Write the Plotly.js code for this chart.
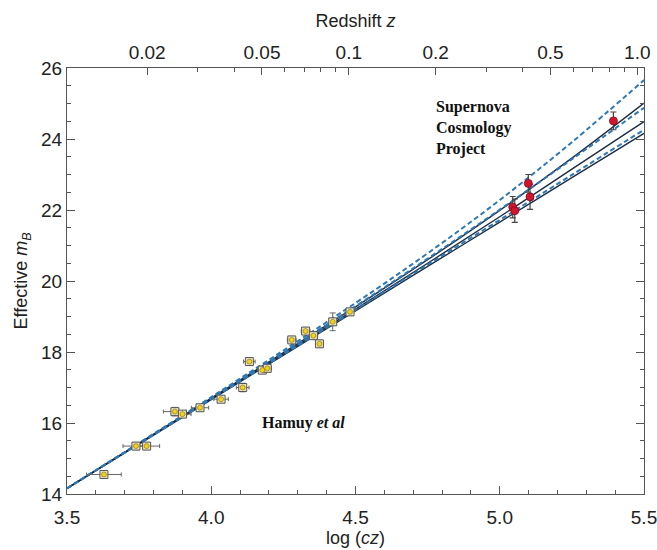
<!DOCTYPE html>
<html>
<head>
<meta charset="utf-8">
<script src="https://cdn.plot.ly/plotly-3.0.1.min.js"></script>
<style>html,body{margin:0;padding:0;background:#fff;}#chart{width:657px;height:550px;}</style>
</head>
<body>
<div id="chart"></div>
<script>
// Hamuy et al. low-redshift supernovae
var hamuyLogCz = [3.628, 3.739, 3.776, 3.874, 3.900, 3.961, 4.034, 4.109, 4.132, 4.177, 4.194, 4.279, 4.327, 4.354, 4.375, 4.421, 4.481];
var hamuyMag   = [14.55, 15.35, 15.35, 16.32, 16.25, 16.43, 16.67, 17.00, 17.73, 17.49, 17.54, 18.34, 18.59, 18.46, 18.23, 18.85, 19.13];
var hamuyXErr  = [0.060, 0.045, 0.045, 0.040, 0.030, 0.030, 0.025, 0.022, 0.020, 0.015, 0.015, 0.015, 0.015, 0.015, 0.012, 0.012, 0.012];
var hamuyYErr  = [0.06, 0.10, 0.08, 0.12, 0.08, 0.08, 0.08, 0.12, 0.10, 0.08, 0.08, 0.10, 0.10, 0.10, 0.10, 0.25, 0.10];

// Supernova Cosmology Project high-redshift supernovae
var scpLogCz = [5.045, 5.052, 5.099, 5.105, 5.394];
var scpMag   = [22.08, 21.98, 22.75, 22.37, 24.51];
var scpYErr  = [0.30, 0.33, 0.25, 0.35, 0.25];

// Model curves
var curveLogCz  = [3.5, 4.0, 4.5, 4.75, 5.0, 5.25, 5.5];
var dashedTop   = [14.16, 16.73, 19.38, 20.78, 22.28, 23.91, 25.66];
var solidTop    = [14.16, 16.70, 19.27, 20.60, 21.99, 23.46, 25.01];
var dashedMid   = [14.16, 16.70, 19.29, 20.63, 22.01, 23.43, 24.88];
var solidMid    = [14.16, 16.68, 19.21, 20.50, 21.81, 23.15, 24.49];
var dashedLow   = [14.16, 16.67, 19.19, 20.46, 21.72, 22.99, 24.26];
var solidLow    = [14.16, 16.66, 19.16, 20.41, 21.66, 22.91, 24.16];

// Redshift axis labels
var zMajor = [0.02, 0.05, 0.1, 0.2, 0.5, 1.0];
var zMajorText = ["0.02", "0.05", "0.1", "0.2", "0.5", "1.0"];
var zMinor = [0.03, 0.04, 0.06, 0.07, 0.08, 0.09, 0.3, 0.4, 0.6, 0.7, 0.8, 0.9];

var C_KMS = 299792.458;
function toLogCz(z) { return Math.log10(C_KMS * z); }

var solidColor = '#1c2c44';
var dashColor = '#2f78b4';

function curve(y, dashed) {
  return {
    x: curveLogCz, y: y, mode: 'lines', type: 'scatter', hoverinfo: 'skip',
    line: dashed ? {color: dashColor, width: 2, dash: '5px,3px', shape: 'spline'}
                 : {color: solidColor, width: 1.4, shape: 'spline'},
    showlegend: false
  };
}

var traces = [
  curve(solidTop, false), curve(solidMid, false), curve(solidLow, false),
  curve(dashedTop, true), curve(dashedMid, true), curve(dashedLow, true),
  {
    x: hamuyLogCz, y: hamuyMag, mode: 'markers', type: 'scatter', showlegend: false,
    error_x: {type: 'data', array: hamuyXErr, color: '#666', thickness: 1, width: 2},
    error_y: {type: 'data', array: hamuyYErr, color: '#666', thickness: 1, width: 3},
    marker: {symbol: 'square', size: 8, color: '#ece4c0', line: {color: '#555', width: 1}}
  },
  {
    x: hamuyLogCz, y: hamuyMag, mode: 'markers', type: 'scatter', showlegend: false,
    marker: {symbol: 'circle', size: 5, color: '#f2d21a', line: {color: '#6a5a10', width: 0.5}}
  },
  {
    x: scpLogCz, y: scpMag, mode: 'markers', type: 'scatter', showlegend: false,
    error_y: {type: 'data', array: scpYErr, color: '#444', thickness: 1.2, width: 3},
    marker: {symbol: 'circle', size: 8, color: '#d0152e', line: {color: '#8a0a1a', width: 0.8}}
  },
  {x: [3.5, 5.5], y: [14, 14], xaxis: 'x2', mode: 'markers', marker: {opacity: 0}, showlegend: false, hoverinfo: 'skip'}
];

var tickFont = {family: 'Liberation Sans, Arial, sans-serif', size: 19, color: '#222'};
var titleFont = {family: 'Liberation Sans, Arial, sans-serif', size: 18, color: '#222'};

var layout = {
  width: 657, height: 550,
  margin: {l: 67, r: 13, t: 68, b: 56},
  paper_bgcolor: '#fff', plot_bgcolor: '#fff',
  showlegend: false,
  font: tickFont,
  xaxis: {
    range: [3.5, 5.5], tickvals: [3.5, 4.0, 4.5, 5.0, 5.5], ticktext: ['3.5', '4.0', '4.5', '5.0', '5.5'],
    ticks: 'inside', ticklen: 8, tickcolor: '#555', tickwidth: 1, ticklabelstandoff: 6,
    ticklabeloverflow: 'allow',
    minor: {dtick: 0.1, ticks: 'inside', ticklen: 4, tickcolor: '#555'},
    showline: true, linecolor: '#555', linewidth: 1, mirror: false,
    showgrid: false, zeroline: false,
    tickfont: tickFont,
    title: {text: 'log (<i>cz</i>)', font: titleFont, standoff: 4}
  },
  xaxis2: {
    overlaying: 'x', side: 'top', range: [3.5, 5.5],
    tickmode: 'array', tickvals: zMajor.map(toLogCz), ticktext: zMajorText,
    ticks: 'inside', ticklen: 7, tickcolor: '#555', tickwidth: 1,
    ticklabeloverflow: 'allow',
    minor: {tickmode: 'array', tickvals: zMinor.map(toLogCz), ticks: 'inside', ticklen: 4, tickcolor: '#555'},
    showline: true, linecolor: '#555', linewidth: 1,
    showgrid: false, zeroline: false,
    tickfont: tickFont,
    title: {text: 'Redshift <i>z</i>', font: titleFont, standoff: 10}
  },
  yaxis: {
    range: [14, 26], tickvals: [14, 16, 18, 20, 22, 24, 26],
    ticks: 'inside', ticklen: 8, tickcolor: '#555', tickwidth: 1,
    minor: {dtick: 0.5, ticks: 'inside', ticklen: 4, tickcolor: '#555'},
    showline: true, linecolor: '#555', linewidth: 1, mirror: 'ticks',
    showgrid: false, zeroline: false,
    tickfont: tickFont,
    title: {text: 'Effective <i>m</i><sub><i>B</i></sub>', font: titleFont, standoff: 8}
  },
  annotations: [
    {x: 4.772, y: 24.87, xref: 'x', yref: 'y', xanchor: 'left', yanchor: 'top', align: 'left', showarrow: false,
     text: '<b>Supernova<br>Cosmology<br>Project</b>', font: {family: 'Liberation Serif, Times New Roman, serif', size: 16, color: '#111'}, yshift: 12},
    {x: 4.169, y: 15.99, xref: 'x', yref: 'y', xanchor: 'left', yanchor: 'middle', showarrow: false,
     text: '<b>Hamuy <i>et al</i></b>', font: {family: 'Liberation Serif, Times New Roman, serif', size: 16, color: '#111'}}
  ]
};

Plotly.newPlot('chart', traces, layout, {staticPlot: true, displayModeBar: false});
</script>
</body>
</html>
